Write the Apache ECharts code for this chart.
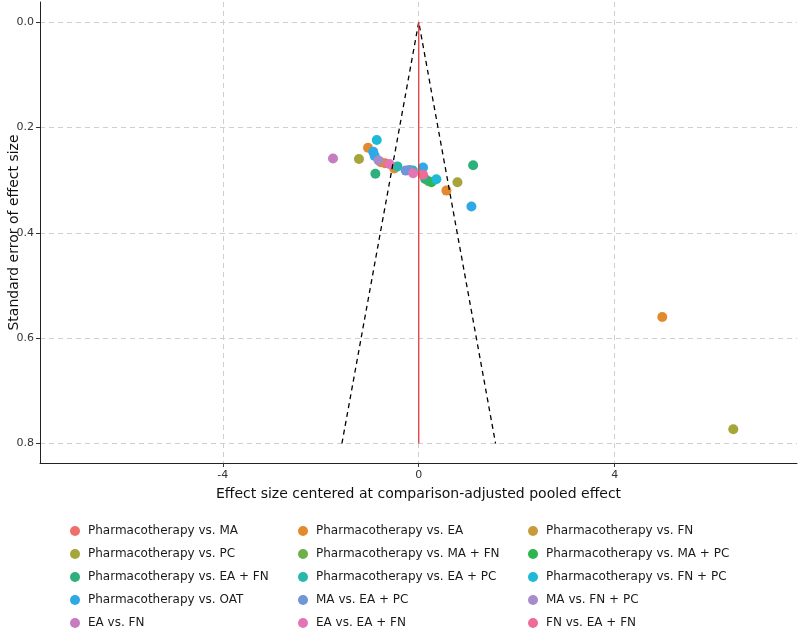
<!DOCTYPE html>
<html>
<head>
<meta charset="utf-8">
<script src="https://cdn.jsdelivr.net/npm/echarts@6/dist/echarts.min.js"></script>
<style>
  html, body { margin: 0; padding: 0; background: #fff; }
  #chart { width: 800px; height: 628px; }
</style>
</head>
<body>
<div id="chart"></div>
<script>
// comparisons (legend order, row by row)
var categories = [
  'Pharmacotherapy vs. MA', 'Pharmacotherapy vs. EA', 'Pharmacotherapy vs. FN',
  'Pharmacotherapy vs. PC', 'Pharmacotherapy vs. MA + FN', 'Pharmacotherapy vs. MA + PC',
  'Pharmacotherapy vs. EA + FN', 'Pharmacotherapy vs. EA + PC', 'Pharmacotherapy vs. FN + PC',
  'Pharmacotherapy vs. OAT', 'MA vs. EA + PC', 'MA vs. FN + PC',
  'EA vs. FN', 'EA vs. EA + FN', 'FN vs. EA + FN'
];
var colors = [
  '#EE6F6B', '#E38A2E', '#C89B3A',
  '#A5A53A', '#6DB04B', '#2DB550',
  '#2DB07C', '#27B8AC', '#1DBAD8',
  '#2FA9E6', '#6F96D8', '#A98BCB',
  '#C57CC0', '#E374B6', '#EF6C98'
];

// studies: comparison index, centred effect size, standard error
var pointCategory = [12, 3, 1, 8, 9, 9, 6, 11, 1, 0, 13, 7, 1, 10, 10, 7, 13, 9, 14, 6, 4, 5, 8, 3, 1, 6, 9, 1, 3];
var pointEffect = [-1.75, -1.22, -1.035, -0.857, -0.93, -0.90, -0.885, -0.82, -0.776, -0.69, -0.60, -0.435, -0.50, -0.265, -0.19, -0.12, -0.115, 0.088, 0.088, 0.13, 0.20, 0.26, 0.36, 0.79, 0.565, 1.11, 1.075, 4.97, 6.42];
var pointSE = [0.259, 0.260, 0.2385, 0.224, 0.246, 0.254, 0.288, 0.263, 0.266, 0.268, 0.2695, 0.274, 0.278, 0.282, 0.281, 0.282, 0.287, 0.276, 0.290, 0.298, 0.302, 0.304, 0.2985, 0.304, 0.320, 0.272, 0.350, 0.560, 0.773];

// pseudo 95% confidence funnel and zero line
var funnelX = [-1.568, 0, 1.568];
var funnelY = [0.8, 0, 0.8];
var zeroX = [0, 0];
var zeroY = [0, 0.8];

var xTicks = [-4, 0, 4];
var yTicks = [0, 0.2, 0.4, 0.6, 0.8];

var chart = echarts.init(document.getElementById('chart'));

var series = [];
categories.forEach(function (name, c) {
  var pts = [];
  for (var i = 0; i < pointCategory.length; i++) {
    if (pointCategory[i] === c) pts.push([pointEffect[i], pointSE[i]]);
  }
  series.push({
    name: name,
    type: 'scatter',
    symbol: 'circle',
    symbolSize: 10,
    itemStyle: { color: colors[c], opacity: 1 },
    data: pts,
    z: 3
  });
});
series.push({
  type: 'line',
  data: funnelX.map(function (x, i) { return [x, funnelY[i]]; }),
  symbol: 'none',
  lineStyle: { color: '#000', width: 1.3, type: [5, 4] },
  silent: true,
  z: 4
});
series.push({
  type: 'line',
  data: zeroX.map(function (x, i) { return [x, zeroY[i]]; }),
  symbol: 'none',
  lineStyle: { color: '#E5383B', width: 1.3 },
  silent: true,
  z: 4
});

function legendCol(col, left) {
  return {
    orient: 'vertical',
    left: left,
    top: 524,
    height: 200,
    padding: 0,
    itemWidth: 10,
    itemHeight: 10,
    itemGap: 9,
    icon: 'circle',
    data: categories.filter(function (n, i) { return i % 3 === col; }),
    textStyle: { fontFamily: 'DejaVu Sans', fontSize: 12, color: '#1a1a1a', lineHeight: 14, padding: [0, 0, 0, 3] },
    selectedMode: false
  };
}

var gridStyle = { show: true, lineStyle: { color: '#cfcfcf', type: [5, 4], width: 1 } };

var option = {
  animation: false,
  textStyle: { fontFamily: 'DejaVu Sans' },
  grid: { left: 40, right: 3, top: 2, bottom: 165, containLabel: false, outerBoundsMode: 'none' },
  legend: [legendCol(0, 70), legendCol(1, 298), legendCol(2, 528)],
  xAxis: {
    type: 'value',
    min: -7.73,
    max: 7.72,
    name: 'Effect size centered at comparison-adjusted pooled effect',
    nameLocation: 'middle',
    nameGap: 24,
    nameMoveOverlap: false,
    nameTextStyle: { fontSize: 14, color: '#111' },
    axisLine: { show: true, onZero: false, lineStyle: { color: '#222', width: 1 } },
    axisTick: { show: true, length: 4, customValues: xTicks, lineStyle: { color: '#333' } },
    axisLabel: { customValues: xTicks, fontSize: 11, color: '#333', margin: 7 },
    splitLine: gridStyle
  },
  yAxis: {
    type: 'value',
    inverse: true,
    min: -0.038,
    max: 0.837,
    name: 'Standard error of effect size',
    nameLocation: 'middle',
    nameGap: 19,
    nameMoveOverlap: false,
    nameTextStyle: { fontSize: 14, color: '#111' },
    axisLine: { show: true, onZero: false, lineStyle: { color: '#222', width: 1 } },
    axisTick: { show: true, length: 4, customValues: yTicks, lineStyle: { color: '#333' } },
    axisLabel: {
      customValues: yTicks, fontSize: 11, color: '#333', margin: 6,
      formatter: function (v) { return v.toFixed(1); }
    },
    splitLine: gridStyle
  },
  series: series
};

chart.setOption(option);
</script>
</body>
</html>
